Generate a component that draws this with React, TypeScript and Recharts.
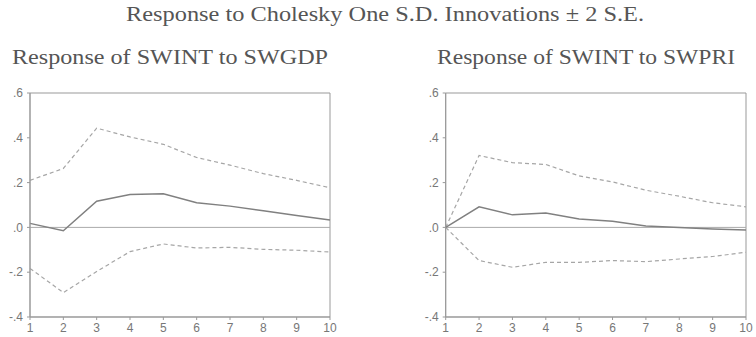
import { LineChart, Line, XAxis, YAxis, ReferenceLine, ReferenceArea } from "recharts";

const PERIODS = [1, 2, 3, 4, 5, 6, 7, 8, 9, 10];
const Y_TICKS = [-0.4, -0.2, 0, 0.2, 0.4, 0.6];
const Y_LABELS = ["-.4", "-.2", ".0", ".2", ".4", ".6"];

const GDP_RESP = [0.018, -0.015, 0.117, 0.147, 0.15, 0.11, 0.095, 0.074, 0.053, 0.033];
const GDP_UPPER = [0.21, 0.263, 0.443, 0.404, 0.371, 0.312, 0.278, 0.24, 0.21, 0.177];
const GDP_LOWER = [-0.183, -0.291, -0.197, -0.108, -0.074, -0.092, -0.089, -0.098, -0.102, -0.11];

const PRI_RESP = [0, 0.092, 0.056, 0.064, 0.037, 0.027, 0.006, 0, -0.007, -0.012];
const PRI_UPPER = [0, 0.321, 0.289, 0.281, 0.23, 0.203, 0.166, 0.139, 0.11, 0.092];
const PRI_LOWER = [0, -0.148, -0.178, -0.156, -0.156, -0.148, -0.153, -0.141, -0.13, -0.111];

const TITLE = "Response to Cholesky One S.D. Innovations \u00b1 2 S.E.";
const SUB_LEFT = "Response of SWINT to SWGDP";
const SUB_RIGHT = "Response of SWINT to SWPRI";

const build = (resp: number[], upper: number[], lower: number[]) =>
  PERIODS.map((p, i) => ({ p, resp: resp[i], upper: upper[i], lower: lower[i] }));

const tickStyle = { fontFamily: "Liberation Sans, Arial, sans-serif", fontSize: 12, fill: "#777" };
const serif = "Liberation Serif, Times New Roman, serif";

function Panel({ data, left, marginLeft, marginRight }: any) {
  return (
    <div style={{ position: "absolute", left, top: 0 }}>
      <LineChart
        width={378}
        height={337}
        data={data}
        margin={{ top: 93, right: marginRight, bottom: 0, left: marginLeft }}
      >
        <XAxis
          dataKey="p"
          type="number"
          domain={[1, 10]}
          ticks={PERIODS}
          interval={0}
          height={20}
          stroke="#999"
          tick={tickStyle}
          tickSize={3}
          tickMargin={3}
        />
        <YAxis
          type="number"
          domain={[-0.4, 0.6]}
          ticks={Y_TICKS}
          interval={0}
          width={30}
          stroke="#999"
          tick={tickStyle}
          tickSize={3}
          tickMargin={4}
          tickFormatter={(v: number) => Y_LABELS[Y_TICKS.findIndex((t) => Math.abs(t - v) < 1e-9)]}
        />
        <ReferenceArea x1={1} x2={10} y1={-0.4} y2={0.6} fill="none" stroke="#999" strokeWidth={1} />
        <ReferenceLine y={0} stroke="#aaa" strokeWidth={1} />
        <Line dataKey="upper" stroke="#a6a6a6" strokeWidth={1.2} strokeDasharray="4 3" dot={false} isAnimationActive={false} />
        <Line dataKey="lower" stroke="#a6a6a6" strokeWidth={1.2} strokeDasharray="4 3" dot={false} isAnimationActive={false} />
        <Line dataKey="resp" stroke="#808080" strokeWidth={1.5} dot={false} isAnimationActive={false} />
      </LineChart>
    </div>
  );
}

export default function App() {
  return (
    <div style={{ position: "absolute", left: 0, top: 0, width: 756, height: 337, background: "#fff" }}>
      <svg width={756} height={70} style={{ position: "absolute", left: 0, top: 0 }}>
        <text x={385} y={21} textAnchor="middle" fontFamily={serif} fontSize={20} fill="#555" textLength={518} lengthAdjust="spacingAndGlyphs">
          {TITLE}
        </text>
        <text x={12} y={64} fontFamily={serif} fontSize={20} fill="#555" textLength={316} lengthAdjust="spacingAndGlyphs">
          {SUB_LEFT}
        </text>
        <text x={437} y={64} fontFamily={serif} fontSize={20} fill="#555" textLength={298} lengthAdjust="spacingAndGlyphs">
          {SUB_RIGHT}
        </text>
      </svg>
      <Panel data={build(GDP_RESP, GDP_UPPER, GDP_LOWER)} left={0} marginLeft={0} marginRight={48} />
      <Panel data={build(PRI_RESP, PRI_UPPER, PRI_LOWER)} left={378} marginLeft={37.7} marginRight={10} />
    </div>
  );
}
